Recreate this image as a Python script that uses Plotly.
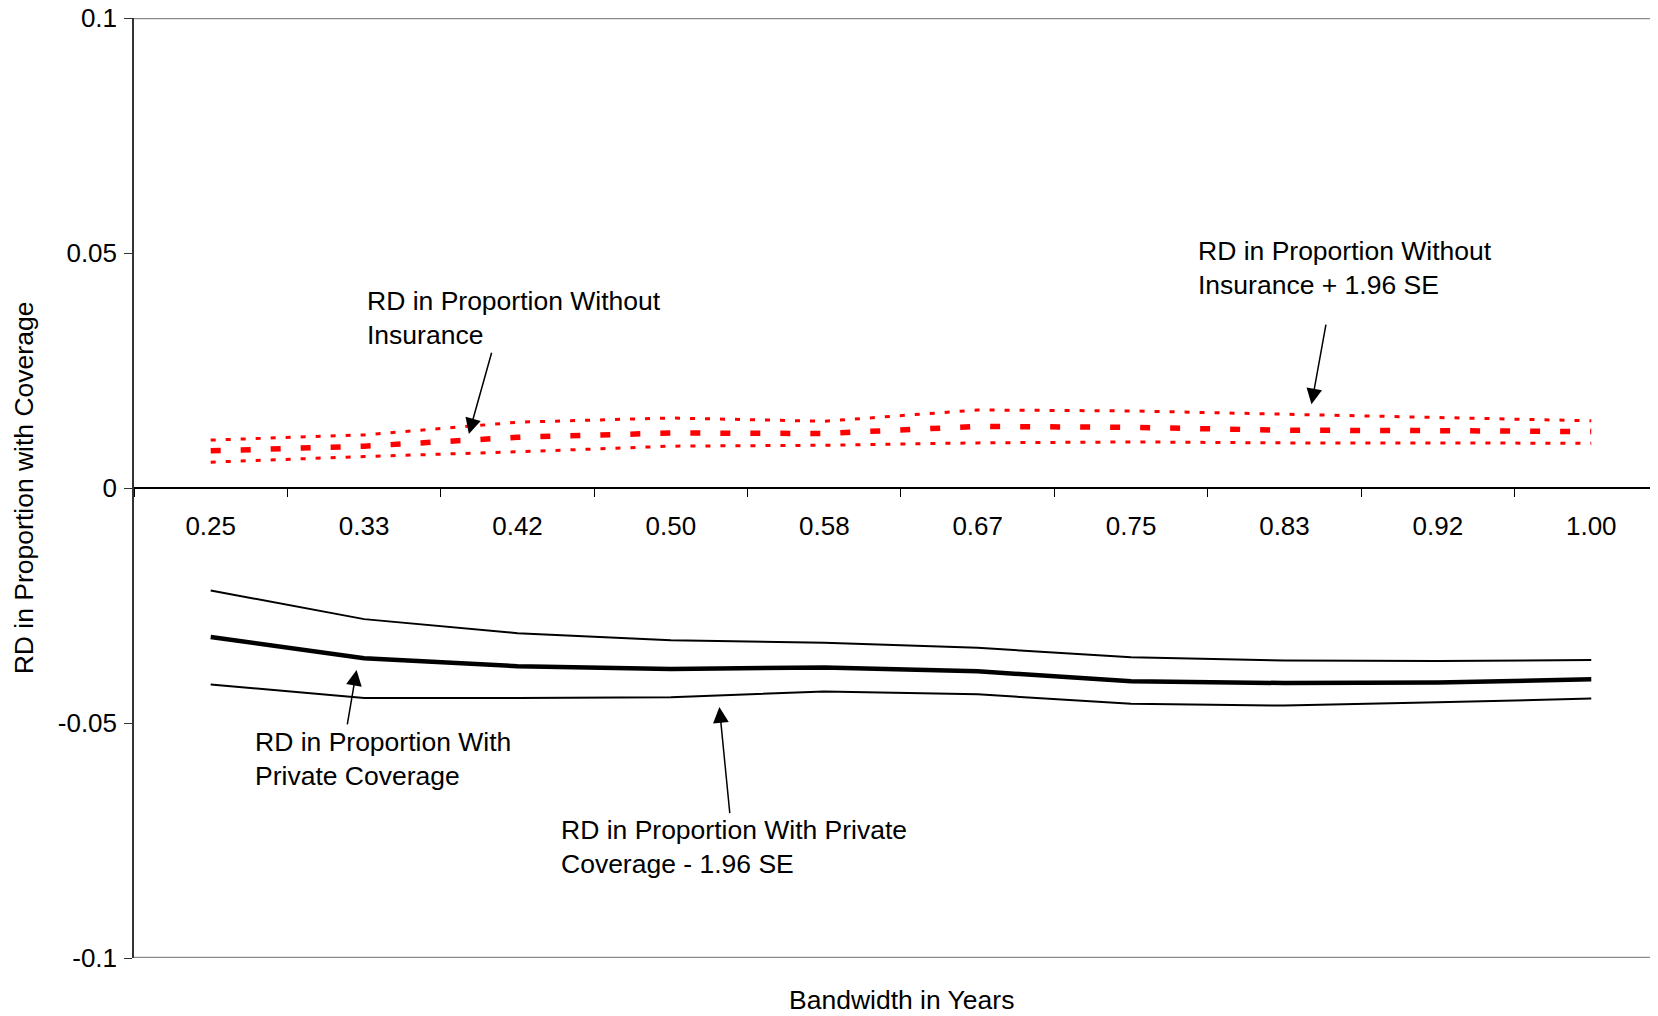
import plotly.graph_objects as go

bandwidth = ["0.25", "0.33", "0.42", "0.50", "0.58", "0.67", "0.75", "0.83", "0.92", "1.00"]

uninsured = [0.0079, 0.0089, 0.0108, 0.0117, 0.0116, 0.0131, 0.0129, 0.0123, 0.0122, 0.0120]
uninsured_upper = [0.0102, 0.0113, 0.0140, 0.0149, 0.0142, 0.0166, 0.0164, 0.0157, 0.0149, 0.0143]
uninsured_lower = [0.0055, 0.0067, 0.0077, 0.0089, 0.0091, 0.0096, 0.0098, 0.0096, 0.0096, 0.0095]

private = [-0.0317, -0.0362, -0.0379, -0.0385, -0.0382, -0.0390, -0.0411, -0.0415, -0.0414, -0.0407]
private_upper = [-0.0218, -0.0279, -0.0309, -0.0324, -0.0329, -0.0340, -0.0360, -0.0367, -0.0368, -0.0366]
private_lower = [-0.0418, -0.0447, -0.0447, -0.0445, -0.0433, -0.0439, -0.0459, -0.0463, -0.0456, -0.0448]

y_ticks = [-0.1, -0.05, 0, 0.05, 0.1]
y_tick_text = ["-0.1", "-0.05", "0", "0.05", "0.1"]

FONT = "Liberation Sans, Arial, sans-serif"
FS = 26.5

fig = go.Figure()

red = "#FF0000"
fig.add_trace(go.Scatter(x=bandwidth, y=uninsured_upper, mode="lines",
                         line=dict(color=red, width=3, dash="5px,10px"), showlegend=False))
fig.add_trace(go.Scatter(x=bandwidth, y=uninsured_lower, mode="lines",
                         line=dict(color=red, width=3, dash="5px,10px"), showlegend=False))
fig.add_trace(go.Scatter(x=bandwidth, y=uninsured, mode="lines",
                         line=dict(color=red, width=5.5, dash="10px,20px"), showlegend=False))

fig.add_trace(go.Scatter(x=bandwidth, y=private_upper, mode="lines",
                         line=dict(color="black", width=2), showlegend=False))
fig.add_trace(go.Scatter(x=bandwidth, y=private_lower, mode="lines",
                         line=dict(color="black", width=2), showlegend=False))
fig.add_trace(go.Scatter(x=bandwidth, y=private, mode="lines",
                         line=dict(color="black", width=4.5), showlegend=False))

# labels
labels = [
    ("RD in Proportion Without<br>Insurance", 1.006, 0.0361),
    ("RD in Proportion Without<br>Insurance + 1.96 SE", 6.424, 0.0469),
    ("RD in Proportion With<br>Private Coverage", 0.276, -0.0577),
    ("RD in Proportion With Private<br>Coverage - 1.96 SE", 2.268, -0.0764),
]
for txt, xx, yy in labels:
    fig.add_annotation(x=xx, y=yy, xref="x", yref="y", text=txt, showarrow=False,
                       xanchor="left", yanchor="middle", align="left",
                       font=dict(family=FONT, size=FS, color="black"))

# arrows: (head_x, head_y, tail_x, tail_y)
arrows = [
    (1.683, 0.0115, 1.834, 0.0291),
    (7.176, 0.0178, 7.272, 0.0351),
    (0.951, -0.0387, 0.889, -0.0506),
    (3.316, -0.0466, 3.385, -0.0695),
]
for hx, hy, tx, ty in arrows:
    fig.add_annotation(x=hx, y=hy, ax=tx, ay=ty, xref="x", yref="y", axref="x", ayref="y",
                       text="", showarrow=True, arrowhead=2, arrowsize=2.1, arrowwidth=1.5,
                       arrowcolor="black", standoff=0, startstandoff=0)

# axis titles
fig.add_annotation(x=0.5033, y=-0.0447, xref="paper", yref="paper", text="Bandwidth in Years",
                   showarrow=False, xanchor="center", yanchor="middle",
                   font=dict(family=FONT, size=FS, color="black"))
fig.add_annotation(x=-0.072, y=0.5, xref="paper", yref="paper", text="RD in Proportion with Coverage",
                   showarrow=False, textangle=-90, xanchor="center", yanchor="middle",
                   font=dict(family=FONT, size=FS, color="black"))

# plot area top / bottom borders
for yv in (0.1, -0.1):
    fig.add_shape(type="line", xref="paper", yref="y", x0=0, x1=1, y0=yv, y1=yv,
                  line=dict(color="#8a8a8a", width=2.5), layer="below")

fig.update_layout(
    width=1650, height=1008,
    margin=dict(l=126, r=0, t=10, b=58),
    paper_bgcolor="white", plot_bgcolor="white",
    font=dict(family=FONT, size=FS, color="black"),
    showlegend=False,
    xaxis=dict(type="category", categoryorder="array", categoryarray=bandwidth,
               range=[-0.5, 9.435], anchor="free", position=0.5,
               showline=True, linecolor="black", linewidth=1.5,
               ticks="outside", ticklen=8, tickwidth=1.2, tickcolor="black",
               tickson="boundaries", ticklabelstandoff=15,
               showgrid=False, zeroline=False,
               tickfont=dict(family=FONT, size=26, color="black")),
    yaxis=dict(range=[-0.1, 0.1], tickvals=y_ticks, ticktext=y_tick_text,
               showline=True, linecolor="#333333", linewidth=1.5,
               ticks="outside", ticklen=8, tickwidth=1.2, tickcolor="#333333",
               ticklabelstandoff=2, ticklabeloverflow="allow",
               showgrid=False, zeroline=False, automargin=False,
               tickfont=dict(family=FONT, size=26, color="black")),
)

fig.write_html("out.html")
